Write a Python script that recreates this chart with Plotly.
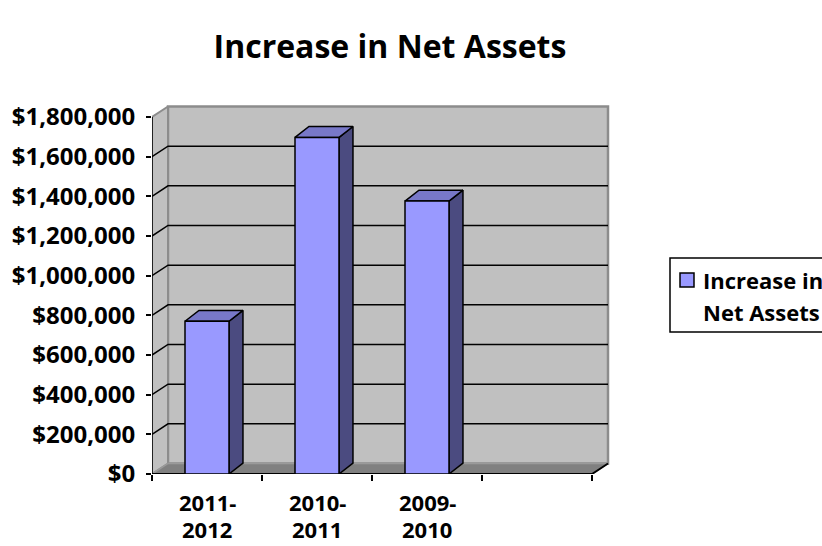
import plotly.graph_objects as go

# ---------------- data ----------------
categories = ["2011-2012", "2010-2011", "2009-2010", ""]
values = [770000, 1697000, 1376000]
series_name = "Increase in Net Assets"
legend_lines = ["Increase in", "Net Assets"]
y_tick_values = [0, 200000, 400000, 600000, 800000, 1000000, 1200000, 1400000, 1600000, 1800000]
y_tick_labels = ["$0", "$200,000", "$400,000", "$600,000", "$800,000", "$1,000,000",
                 "$1,200,000", "$1,400,000", "$1,600,000", "$1,800,000"]
title_text = "Increase in Net Assets"

# ---------------- style ----------------
FONT = "Open Sans"
FRONT = "#9999FF"
TOP = "#7878C8"
SIDE = "#4B4B80"
WALL = "#C0C0C0"
FLOOR = "#808080"
WALL_EDGE = "#8C8C8C"

ncat = len(categories)
ymax = y_tick_values[-1]
DX = 0.1455          # depth offset of walls (x units)
DY = 53000           # depth offset of walls (y units)
BDX = 0.127          # bar depth offset
BDY = 55000
HALF = 0.2           # half bar width

fig = go.Figure()

def poly(xs, ys, fill, line_color, width=1):
    fig.add_trace(go.Scatter(x=xs + [xs[0]], y=ys + [ys[0]], mode="lines", fill="toself",
                             fillcolor=fill, line=dict(color=line_color, width=width),
                             hoverinfo="skip", showlegend=False))

def seg(xs, ys, color, width=1.5):
    fig.add_trace(go.Scatter(x=xs, y=ys, mode="lines", line=dict(color=color, width=width),
                             hoverinfo="skip", showlegend=False))

# back wall
poly([DX, ncat + DX, ncat + DX, DX], [DY, DY, ymax + DY, ymax + DY], WALL, WALL_EDGE, 2.5)
# side wall
poly([0, DX, DX, 0], [0, DY, ymax + DY, ymax], WALL, WALL_EDGE, 2)
# floor
poly([0, ncat, ncat + DX, DX], [0, 0, DY, DY], FLOOR, "#9a9a9a", 1.5)
# gridlines
for v in y_tick_values[1:-1]:
    seg([0, DX, ncat + DX], [v, v + DY, v + DY], "black", 1.5)
# floor front & right edge
seg([0, ncat, ncat + DX], [0, 0, DY], "black", 2)
# y axis line
seg([0, 0], [0, ymax], "black", 1.5)

# bars
for i, v in enumerate(values):
    c = i + 0.5
    xl, xr = c - HALF, c + HALF
    poly([xr, xr + BDX, xr + BDX, xr], [0, BDY, v + BDY, v], SIDE, "black", 1.5)
    poly([xl, xr, xr + BDX, xl + BDX], [v, v, v + BDY, v + BDY], TOP, "black", 1.5)
    poly([xl, xr, xr, xl], [0, 0, v, v], FRONT, "black", 1.5)

L, R, T, B = 152, 620, 100, 474
def px(xp):
    return (xp - L) / (R - L)
def py(yp):
    return (B - yp) / (B - T)

# category labels (two lines)
for i, cat in enumerate(categories):
    if not cat:
        continue
    a, b = cat.split("-")
    fig.add_annotation(x=i + 0.5, y=py(502), xref="x", yref="paper", text=a + "-",
                       showarrow=False, yanchor="middle",
                       font=dict(family=FONT, size=22, color="black", weight="bold"))
    fig.add_annotation(x=i + 0.5, y=py(546), xref="x", yref="paper", text=b,
                       showarrow=False, yanchor="bottom",
                       font=dict(family=FONT, size=22, color="black", weight="bold"))

# legend box (drawn)
fig.add_shape(type="rect", xref="paper", yref="paper", x0=px(670), x1=px(840), y0=py(332), y1=py(258),
              line=dict(color="black", width=1.5), fillcolor="white", layer="above")
fig.add_shape(type="rect", xref="paper", yref="paper", x0=px(680), x1=px(694), y0=py(287), y1=py(273),
              line=dict(color="black", width=1.5), fillcolor=FRONT, layer="above")
for k, (txt, yy) in enumerate(zip(legend_lines, [280, 312])):
    fig.add_annotation(xref="paper", yref="paper", x=px(701), y=py(yy), text=txt,
                       showarrow=False, xanchor="left", yanchor="middle", align="left",
                       font=dict(family=FONT, size=22, color="black", weight="bold"))

fig.update_layout(
    width=822, height=546,
    margin=dict(l=L, r=822 - R, t=T, b=546 - B),
    paper_bgcolor="white", plot_bgcolor="white",
    showlegend=False,
    title=dict(text=title_text, x=390 / 822, xanchor="center", y=1 - 47 / 546, yanchor="middle",
               font=dict(family=FONT, size=32, color="black", weight="bold")),
    xaxis=dict(range=[0, (R - L) * ncat / 440], showgrid=False, zeroline=False, showline=False,
               tickvals=list(range(ncat + 1)), ticktext=[""] * (ncat + 1),
               ticks="outside", ticklen=6, tickwidth=1.5, tickcolor="black", fixedrange=True),
    yaxis=dict(range=[0, ymax * (B - T) / 357], showgrid=False, zeroline=False, showline=False,
               tickvals=y_tick_values, ticktext=y_tick_labels,
               ticks="outside", ticklen=5, tickwidth=1.5, tickcolor="black",
               ticklabelstandoff=6,
               tickfont=dict(family=FONT, size=24, color="black", weight="bold"), fixedrange=True),
)

fig.write_html("out.html")
